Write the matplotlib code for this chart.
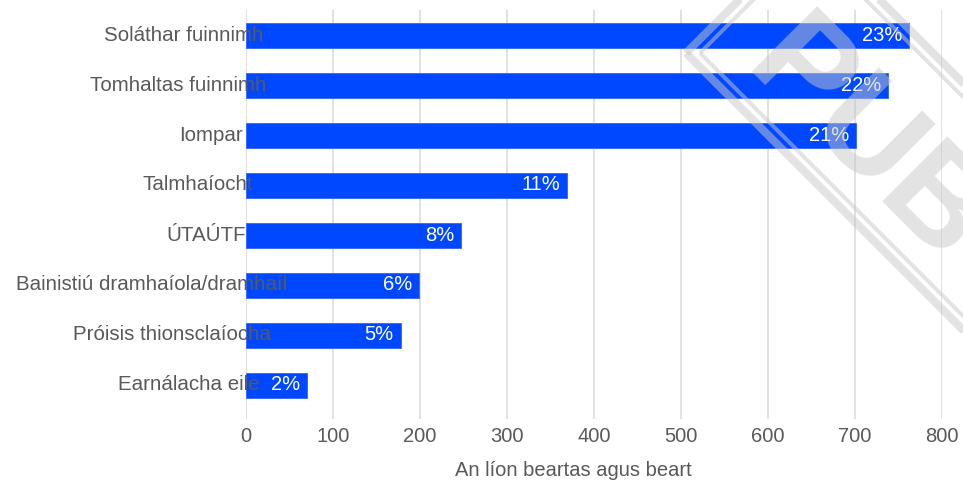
import matplotlib.pyplot as plt
from matplotlib.lines import Line2D

plt.rcParams['font.family'] = ['Liberation Sans', 'DejaVu Sans']

# data
sectors = ['Soláthar fuinnimh', 'Tomhaltas fuinnimh', 'Iompar', 'Talmhaíocht',
           'ÚTAÚTF', 'Bainistiú dramhaíola/dramhaíl', 'Próisis thionsclaíocha',
           'Earnálacha eile']
counts = [762, 738, 701, 369, 247, 199, 178, 70]
shares = ['23%', '22%', '21%', '11%', '8%', '6%', '5%', '2%']
xticks = [0, 100, 200, 300, 400, 500, 600, 700, 800]

W, H = 963, 487
fig = plt.figure(figsize=(W / 100, H / 100), dpi=100)
ax = fig.add_axes([246 / W, 1 - 419 / H, (942 - 246) / W, (419 - 10) / H])

pos = list(range(len(sectors)))
ax.barh(pos, counts, height=0.5, color='#0048ff', edgecolor='#3b6cff',
        linewidth=0.7, zorder=2)

ax.set_xlim(0, 800)
ax.set_ylim(7.68, -0.5)
ax.set_xticks(xticks)
ax.set_yticks([])
ax.grid(axis='x', color='#d9d9d9', linewidth=1.1)
ax.set_axisbelow(True)
for s in ax.spines.values():
    s.set_visible(False)
ax.tick_params(axis='x', length=0, pad=6, labelsize=14.5, labelcolor='#595959')

ax.set_xlabel('An líon beartas agus beart', fontsize=14.5, color='#595959')
ax.xaxis.set_label_coords((573.5 - 246) / 696, -(470 - 419) / 409)
ax.xaxis.label.set_va('center')

# category labels (they run into the bars in the original)
labels = []
for i, name in enumerate(sectors):
    t = ax.annotate(name, xy=(0, i), xytext=(-17, 0), textcoords='offset pixels',
                    ha='right', va='center', fontsize=14.8, color='#595959',
                    annotation_clip=False, zorder=4)
    labels.append(t)

for i, (v, lab) in enumerate(zip(counts, shares)):
    ax.annotate(lab, xy=(v, i), xytext=(-7, 0), textcoords='offset pixels',
                ha='right', va='center', fontsize=14.5, color='white',
                annotation_clip=False, zorder=5)

fig.canvas.draw()
for t in labels:
    w = t.get_window_extent().width
    t.set_position((-17 + 0.213 * w, 0))


# watermark stamp
def px(x, y):
    return x / W, 1 - y / H


wm_col = '#c8c8c8'
for k_lo, k_hi, m, lw in [(633, 880, 739, 5.8), (647, 866, 753, 2.9)]:
    c_lo = ((m + k_lo) / 2, (m - k_lo) / 2)
    c_hi = ((m + k_hi) / 2, (m - k_hi) / 2)
    for a, b in [(c_lo, (1100, 1100 - k_lo)), (c_hi, (1100, 1100 - k_hi)), (c_lo, c_hi)]:
        (x0, y0), (x1, y1) = px(*a), px(*b)
        fig.add_artist(Line2D([x0, x1], [y0, y1], transform=fig.transFigure,
                              color=wm_col, alpha=0.5, linewidth=lw,
                              solid_capstyle='butt', zorder=20))

fig.text(*px(766, 46), 'PUB', rotation=-45, rotation_mode='anchor',
         ha='left', va='center', fontsize=96, fontweight='bold',
         color=wm_col, alpha=0.5, zorder=20)

fig.savefig('out.png', dpi=100)
